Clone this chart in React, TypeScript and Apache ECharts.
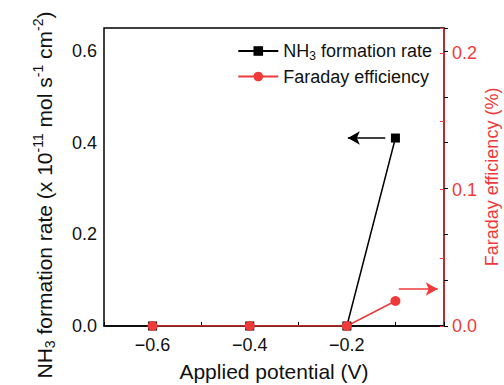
import React, { useEffect, useRef } from "react";
import * as echarts from "echarts";

const potentials = [-0.6, -0.4, -0.2, -0.1];
const formationRate = [0, 0, 0, 0.41];
const faradayEfficiency = [0, 0, 0, 0.0183];
const xTicks = [-0.6, -0.4, -0.2];
const leftArrow = [[-0.121, 0.41], [-0.198, 0.41]];
const rightArrow = [[-0.093, 0.0271], [-0.013, 0.0271]];

const RED = "#f03a3a";
const FONT = "Liberation Sans, Arial, sans-serif";

export default function App() {
  const ref = useRef<HTMLDivElement>(null);
  useEffect(() => {
    const chart = echarts.init(ref.current!, undefined, { renderer: "svg" });
    const fmt = (v: number) => (v < 0 ? "\u2212" + Math.abs(v).toFixed(1) : v.toFixed(1));
    chart.setOption({
      animation: false,
      textStyle: { fontFamily: FONT },
      grid: {
        left: 104,
        right: 60,
        top: 28,
        bottom: 59,
        show: true,
        borderColor: "#000",
        borderWidth: 1.5,
        containLabel: false,
        outerBoundsMode: "none",
      },
      legend: {
        right: 67,
        top: 37,
        orient: "vertical",
        itemWidth: 40,
        itemHeight: 12,
        itemGap: 6,
        textStyle: {
          fontSize: 18,
          color: "#111",
          rich: {
            a: { fontSize: 18, color: "#111", fontFamily: FONT },
            sub: { fontSize: 12, color: "#111", fontFamily: FONT, padding: [9, 0, 0, 0] },
          },
        },
        formatter: (name: string) =>
          name === "NH3" ? "{a|NH}{sub|3}{a| formation rate}" : "{a|Faraday efficiency}",
        data: ["NH3", "Faraday efficiency"],
      },
      xAxis: {
        type: "value",
        min: -0.7,
        max: 0,
        interval: 0.1,
        name: "Applied potential (V)",
        nameLocation: "middle",
        nameGap: 35,
        nameMoveOverlap: false,
        nameTextStyle: { fontSize: 21, color: "#111", fontFamily: FONT },
        axisLine: { lineStyle: { color: "#000", width: 1.5 } },
        axisTick: { inside: true, length: 4, lineStyle: { color: "#000" } },
        splitLine: { show: false },
        axisLabel: {
          fontSize: 18,
          color: "#111",
          margin: 10,
          formatter: (v: number) => {
            const r = Math.round(v * 10) / 10;
            return xTicks.some((t) => Math.abs(t - r) < 1e-9) ? fmt(r) : "";
          },
        },
      },
      yAxis: [
        {
          type: "value",
          min: 0,
          max: 0.65,
          interval: 0.1,
          name: "{a|NH}{sub|3}{a| formation rate (x 10}{sup|-11}{a| mol s}{sup|-1}{a| cm}{sup|-2}{a|)}",
          nameLocation: "middle",
          nameGap: 47,
          nameMoveOverlap: false,
          nameTextStyle: {
            fontSize: 21,
            color: "#111",
            padding: [0, 36, 0, 0],
            rich: {
              a: { fontSize: 21, color: "#111", fontFamily: FONT },
              sub: { fontSize: 14, color: "#111", fontFamily: FONT, padding: [12, 0, 0, 0] },
              sup: { fontSize: 14, color: "#111", fontFamily: FONT, padding: [0, 0, 12, 0] },
            },
          },
          axisLine: { show: true, lineStyle: { color: "#000", width: 1.5 } },
          axisTick: { inside: true, length: 4, lineStyle: { color: "#000" } },
          splitLine: { show: false },
          axisLabel: {
            fontSize: 18,
            color: "#111",
            margin: 7,
            formatter: (v: number) => {
              const r = Math.round(v * 10);
              return r % 2 === 0 && r <= 6 ? fmt(v) : "";
            },
          },
        },
        {
          type: "value",
          min: 0,
          max: 0.2185,
          interval: 0.05,
          position: "right",
          name: "Faraday efficiency (%)",
          nameLocation: "middle",
          nameGap: 39,
          nameRotate: 90,
          nameMoveOverlap: false,
          nameTextStyle: { fontSize: 18, color: RED, fontFamily: FONT },
          axisLine: { show: true, lineStyle: { color: RED, width: 1.5 } },
          axisTick: { inside: true, length: 4, lineStyle: { color: RED } },
          splitLine: { show: false },
          axisLabel: {
            fontSize: 18,
            color: RED,
            margin: 8,
            formatter: (v: number) => {
              const r = Math.round(v * 100);
              return r % 10 === 0 ? (r / 100).toFixed(1) : "";
            },
          },
        },
      ],
      series: [
        {
          name: "NH3",
          type: "line",
          yAxisIndex: 0,
          data: potentials.map((p, i) => [p, formationRate[i]]),
          symbol: "rect",
          symbolSize: 9,
          itemStyle: { color: "#000" },
          lineStyle: { color: "#000", width: 1.5 },
          markLine: {
            silent: true,
            symbol: ["none", "arrow"],
            symbolSize: [10, 12],
            label: { show: false },
            lineStyle: { color: "#000", width: 1.5, type: "solid" },
            data: [[{ coord: leftArrow[0] }, { coord: leftArrow[1] }]],
          },
        },
        {
          name: "Faraday efficiency",
          type: "line",
          yAxisIndex: 1,
          data: potentials.map((p, i) => [p, faradayEfficiency[i]]),
          symbol: "circle",
          symbolSize: 10,
          itemStyle: { color: RED },
          lineStyle: { color: RED, width: 1.5 },
          markLine: {
            silent: true,
            symbol: ["none", "arrow"],
            symbolSize: [10, 12],
            label: { show: false },
            lineStyle: { color: RED, width: 1.5, type: "solid" },
            data: [[{ coord: rightArrow[0] }, { coord: rightArrow[1] }]],
          },
        },
      ],
    });
    return () => chart.dispose();
  }, []);
  return <div ref={ref} style={{ width: 504, height: 385, position: "absolute", left: 0, top: 0, background: "#fff" }} />;
}
